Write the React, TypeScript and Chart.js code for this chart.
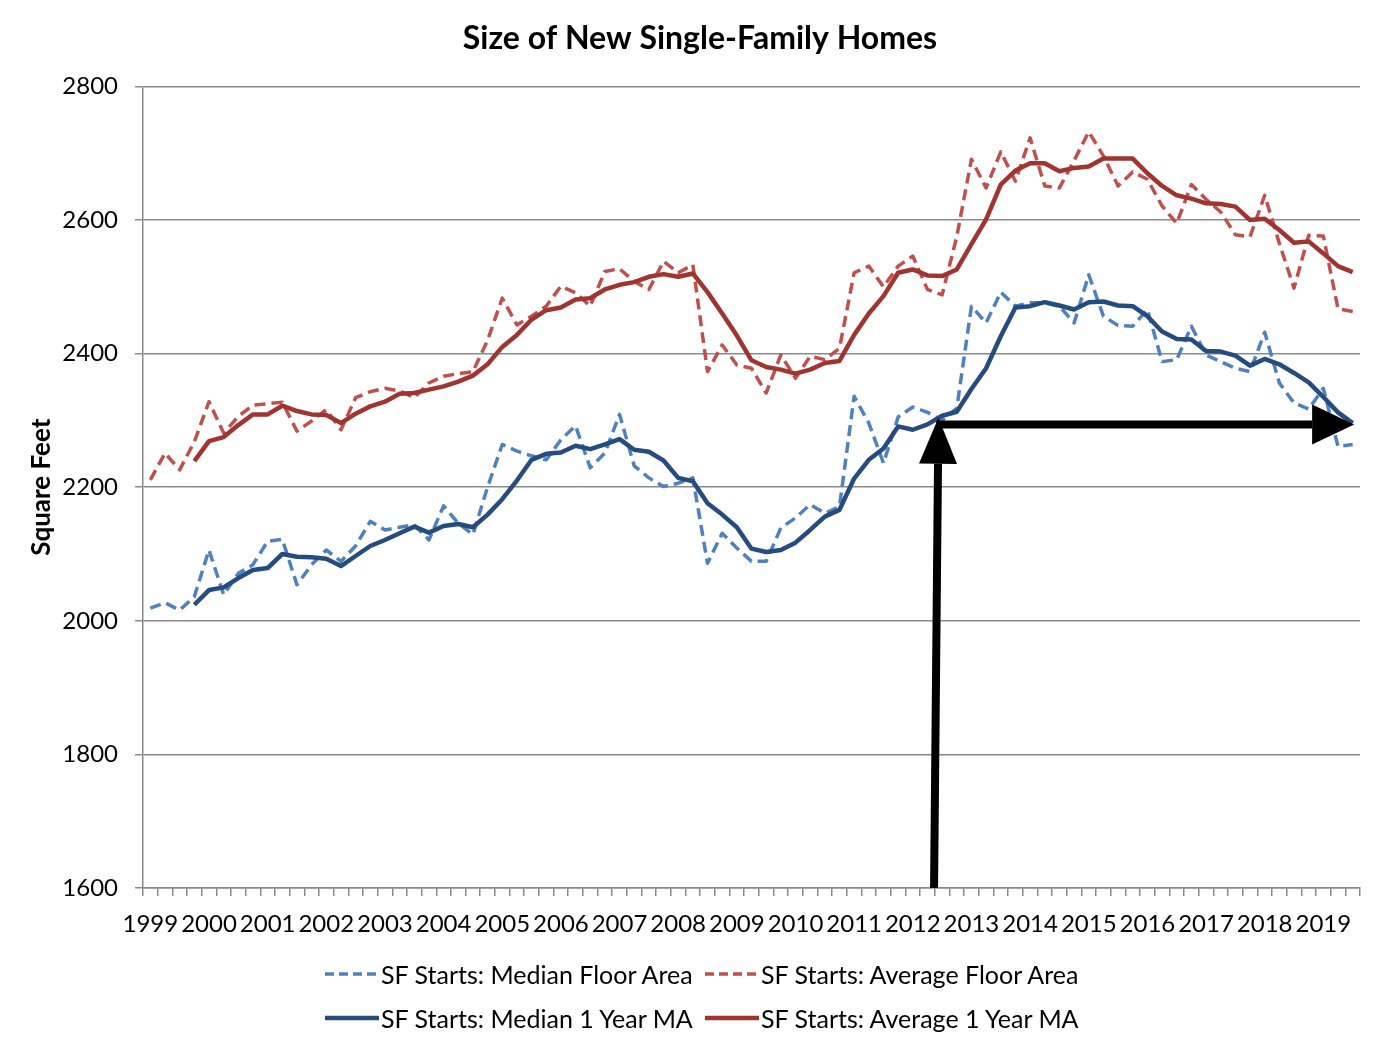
import React, { useEffect, useRef } from 'react';
import { Chart, registerables } from 'chart.js';

Chart.register(...registerables);

const FONT = 'Lato, "Open Sans", sans-serif';

// x axis: quarters from 1999 Q1 to 2019 Q3, year label on each Q1
const YEARS = [
  '1999', '2000', '2001', '2002', '2003', '2004', '2005', '2006', '2007', '2008', '2009',
  '2010', '2011', '2012', '2013', '2014', '2015', '2016', '2017', '2018', '2019',
];
const QUARTERS = ['Q1', 'Q2', 'Q3', 'Q4'];

// SF starts: median floor area (sq ft), quarterly
const MEDIAN_AREA = [
  2019, 2027, 2016, 2036, 2106, 2039, 2071, 2084, 2119, 2122,
  2054, 2084, 2106, 2089, 2112, 2149, 2136, 2140, 2144, 2121,
  2172, 2146, 2129, 2200, 2264, 2254, 2247, 2241, 2271, 2292,
  2229, 2251, 2309, 2232, 2214, 2201, 2206, 2214, 2086, 2131,
  2109, 2089, 2089, 2139, 2154, 2174, 2161, 2171, 2336, 2296,
  2236, 2305, 2320, 2312, 2300, 2318, 2471, 2446, 2492, 2471,
  2476, 2476, 2471, 2446, 2518, 2456, 2442, 2441, 2466, 2388,
  2391, 2441, 2398, 2388, 2378, 2373, 2432, 2356, 2326, 2317,
  2348, 2261, 2264,
];

// SF starts: average floor area (sq ft), quarterly
const AVERAGE_AREA = [
  2211, 2251, 2226, 2268, 2328, 2281, 2306, 2323, 2325, 2327,
  2284, 2299, 2316, 2286, 2334, 2343, 2348, 2344, 2334, 2356,
  2366, 2370, 2373, 2420, 2483, 2443, 2456, 2471, 2501, 2491,
  2471, 2523, 2527, 2508, 2496, 2538, 2521, 2533, 2373, 2413,
  2383, 2378, 2341, 2398, 2363, 2396, 2391, 2408, 2521, 2531,
  2500, 2531, 2546, 2496, 2488, 2575, 2691, 2648, 2702, 2658,
  2723, 2651, 2648, 2689, 2732, 2696, 2651, 2672, 2661, 2621,
  2595, 2653, 2631, 2612, 2578, 2575, 2637, 2565, 2498, 2577,
  2576, 2467, 2463,
];

// 1 year moving averages, starting at 1999 Q4
const MA_START = 3;
const MEDIAN_MA = [
  2024, 2046, 2050, 2064, 2076, 2079, 2100, 2096, 2095, 2093,
  2082, 2097, 2112, 2121, 2131, 2141, 2132, 2142, 2145, 2140,
  2159, 2182, 2210, 2241, 2250, 2252, 2262, 2257, 2264, 2272,
  2256, 2253, 2240, 2214, 2209, 2176, 2159, 2140, 2108, 2103,
  2106, 2117, 2136, 2156, 2166, 2213, 2241, 2258, 2291, 2286,
  2294, 2307, 2313, 2347, 2378, 2426, 2469, 2471, 2477, 2472,
  2466, 2477, 2478, 2472, 2471, 2456, 2433, 2422, 2421, 2404,
  2403, 2397, 2382, 2392, 2384, 2371, 2357, 2335, 2312, 2296,
];
const AVERAGE_MA = [
  2239, 2269, 2275, 2293, 2309, 2309, 2322, 2314, 2309, 2308,
  2296, 2310, 2321, 2328, 2340, 2341, 2346, 2351, 2358, 2367,
  2384, 2410, 2428, 2451, 2465, 2469, 2481, 2483, 2496, 2503,
  2507, 2515, 2519, 2515, 2520, 2492, 2460, 2427, 2390, 2380,
  2376, 2370, 2376, 2386, 2389, 2428, 2460, 2486, 2521, 2526,
  2517, 2516, 2526, 2564, 2601, 2653, 2674, 2685, 2685, 2673,
  2678, 2680, 2692, 2692, 2692, 2670, 2651, 2637, 2632, 2625,
  2624, 2620, 2600, 2602, 2585, 2566, 2568, 2550, 2531, 2522,
];

// arrow annotations, in (category index, square feet)
const ARROW_UP = { fromX: 53.45, fromY: 1600, toX: 53.75, toY: 2304 };
const ARROW_RIGHT = { fromX: 53.6, toX: 82.1, y: 2294 };

const BLUE_LIGHT = '#4F81BD';
const RED_LIGHT = '#C0504D';
const BLUE_DARK = '#254C80';
const RED_DARK = '#A0352F';
const GRID = '#8A8A8A';

const LEGEND = [
  { label: 'SF Starts: Median Floor Area', color: BLUE_LIGHT, dashed: true },
  { label: 'SF Starts: Average Floor Area', color: RED_LIGHT, dashed: true },
  { label: 'SF Starts: Median 1 Year MA', color: BLUE_DARK, dashed: false },
  { label: 'SF Starts: Average 1 Year MA', color: RED_DARK, dashed: false },
];

const arrowPlugin = {
  id: 'arrows',
  afterDatasetsDraw(chart: Chart) {
    const { ctx } = chart;
    const xs = chart.scales.x;
    const ys = chart.scales.y;
    const draw = (fx: number, fy: number, tx: number, ty: number, head: number, half: number) => {
      const x0 = xs.getPixelForValue(fx);
      const y0 = ys.getPixelForValue(fy);
      const x1 = xs.getPixelForValue(tx);
      const y1 = ys.getPixelForValue(ty);
      const a = Math.atan2(y1 - y0, x1 - x0);
      const bx = x1 - head * Math.cos(a);
      const by = y1 - head * Math.sin(a);
      ctx.save();
      ctx.strokeStyle = '#000';
      ctx.fillStyle = '#000';
      ctx.lineWidth = 8;
      ctx.beginPath();
      ctx.moveTo(x0, y0);
      ctx.lineTo(bx, by);
      ctx.stroke();
      ctx.beginPath();
      ctx.moveTo(x1, y1);
      ctx.lineTo(bx + half * Math.sin(a), by - half * Math.cos(a));
      ctx.lineTo(bx - half * Math.sin(a), by + half * Math.cos(a));
      ctx.closePath();
      ctx.fill();
      ctx.restore();
    };
    draw(ARROW_UP.fromX, ARROW_UP.fromY, ARROW_UP.toX, ARROW_UP.toY, 46, 19);
    draw(ARROW_RIGHT.fromX, ARROW_RIGHT.y, ARROW_RIGHT.toX, ARROW_RIGHT.y, 42, 20);
  },
};

const LegendLine: React.FC<{ color: string; dashed: boolean }> = ({ color, dashed }) => (
  <svg width={54} height={10} style={{ display: 'block' }}>
    <line
      x1={0}
      y1={5}
      x2={54}
      y2={5}
      stroke={color}
      strokeWidth={dashed ? 3.5 : 4.5}
      strokeDasharray={dashed ? '9 5' : undefined}
    />
  </svg>
);

const App: React.FC = () => {
  const canvasRef = useRef<HTMLCanvasElement>(null);
  const chartRef = useRef<Chart | null>(null);

  useEffect(() => {
    document.body.style.margin = '0';
    if (!canvasRef.current) return;
    if (chartRef.current) chartRef.current.destroy();
    const ctx = canvasRef.current.getContext('2d');
    if (!ctx) return;

    const categories = YEARS.flatMap(y => QUARTERS.map(q => `${y} ${q}`)).slice(0, MEDIAN_AREA.length);
    const pad = new Array(MA_START).fill(null);
    const tickFont = { family: FONT, size: 24 };

    const line = (label: string, data: (number | null)[], color: string, dashed: boolean, order: number) => ({
      label,
      data,
      borderColor: color,
      backgroundColor: color,
      borderWidth: dashed ? 3.5 : 4.5,
      borderDash: dashed ? [11, 6] : [],
      borderJoinStyle: 'round' as const,
      pointRadius: 0,
      tension: 0,
      fill: false,
      order,
    });

    chartRef.current = new Chart(ctx, {
      type: 'line',
      data: {
        labels: categories,
        datasets: [
          line('SF Starts: Median Floor Area', MEDIAN_AREA, BLUE_LIGHT, true, 2),
          line('SF Starts: Average Floor Area', AVERAGE_AREA, RED_LIGHT, true, 2),
          line('SF Starts: Median 1 Year MA', [...pad, ...MEDIAN_MA], BLUE_DARK, false, 1),
          line('SF Starts: Average 1 Year MA', [...pad, ...AVERAGE_MA], RED_DARK, false, 1),
        ],
      },
      options: {
        responsive: true,
        maintainAspectRatio: false,
        animation: false,
        layout: { padding: { left: 0, right: 0, top: 0, bottom: 111 } },
        plugins: {
          legend: { display: false },
          tooltip: { enabled: false },
          title: {
            display: true,
            text: 'Size of New Single-Family Homes',
            color: '#000',
            font: { family: FONT, size: 32, weight: 'bold' },
            padding: { top: 19, bottom: 29 },
          },
        },
        scales: {
          x: {
            type: 'category',
            offset: true,
            grid: { offset: true, drawOnChartArea: false, drawTicks: true, tickLength: 8, color: GRID, lineWidth: 1.5 },
            border: { color: GRID, width: 1.5 },
            ticks: {
              autoSkip: false,
              maxRotation: 0,
              minRotation: 0,
              padding: 14,
              color: '#000',
              font: tickFont,
              callback: (_v, i) => (i % 4 === 0 ? YEARS[i / 4] : ''),
            },
            afterFit: (s) => { s.height = 51; },
          },
          y: {
            min: 1600,
            max: 2800,
            ticks: {
              stepSize: 200,
              padding: 17,
              color: '#000',
              font: tickFont,
              callback: (v) => String(v),
            },
            grid: { color: GRID, lineWidth: 1.5, tickLength: 8 },
            border: { color: GRID, width: 1.5 },
            title: {
              display: true,
              text: 'Square Feet',
              color: '#000',
              font: { family: FONT, size: 26, weight: 'bold' },
              padding: { top: 26, bottom: 0 },
            },
            afterFit: (s) => { s.width = 143; },
          },
          // empty right-hand margin so the title stays centred on the page
          yRight: {
            type: 'linear',
            position: 'right',
            min: 1600,
            max: 2800,
            grid: { display: false },
            border: { display: false },
            ticks: { display: false },
            afterFit: (s) => { s.width = 40; },
          },
        },
      },
      plugins: [arrowPlugin],
    });

    return () => {
      chartRef.current?.destroy();
      chartRef.current = null;
    };
  }, []);

  return (
    <div style={{ position: 'relative', width: 1400, height: 1050, background: '#fff' }}>
      <canvas ref={canvasRef} />
      <div
        style={{
          position: 'absolute',
          left: 325,
          top: 959,
          display: 'grid',
          gridTemplateColumns: '380px 380px',
          rowGap: 14,
          fontFamily: FONT,
          fontSize: 25,
          color: '#000',
        }}
      >
        {LEGEND.map(item => (
          <div key={item.label} style={{ display: 'flex', alignItems: 'center', height: 30, whiteSpace: 'nowrap' }}>
            <LegendLine color={item.color} dashed={item.dashed} />
            <span style={{ marginLeft: 2 }}>{item.label}</span>
          </div>
        ))}
      </div>
    </div>
  );
};

export default App;
